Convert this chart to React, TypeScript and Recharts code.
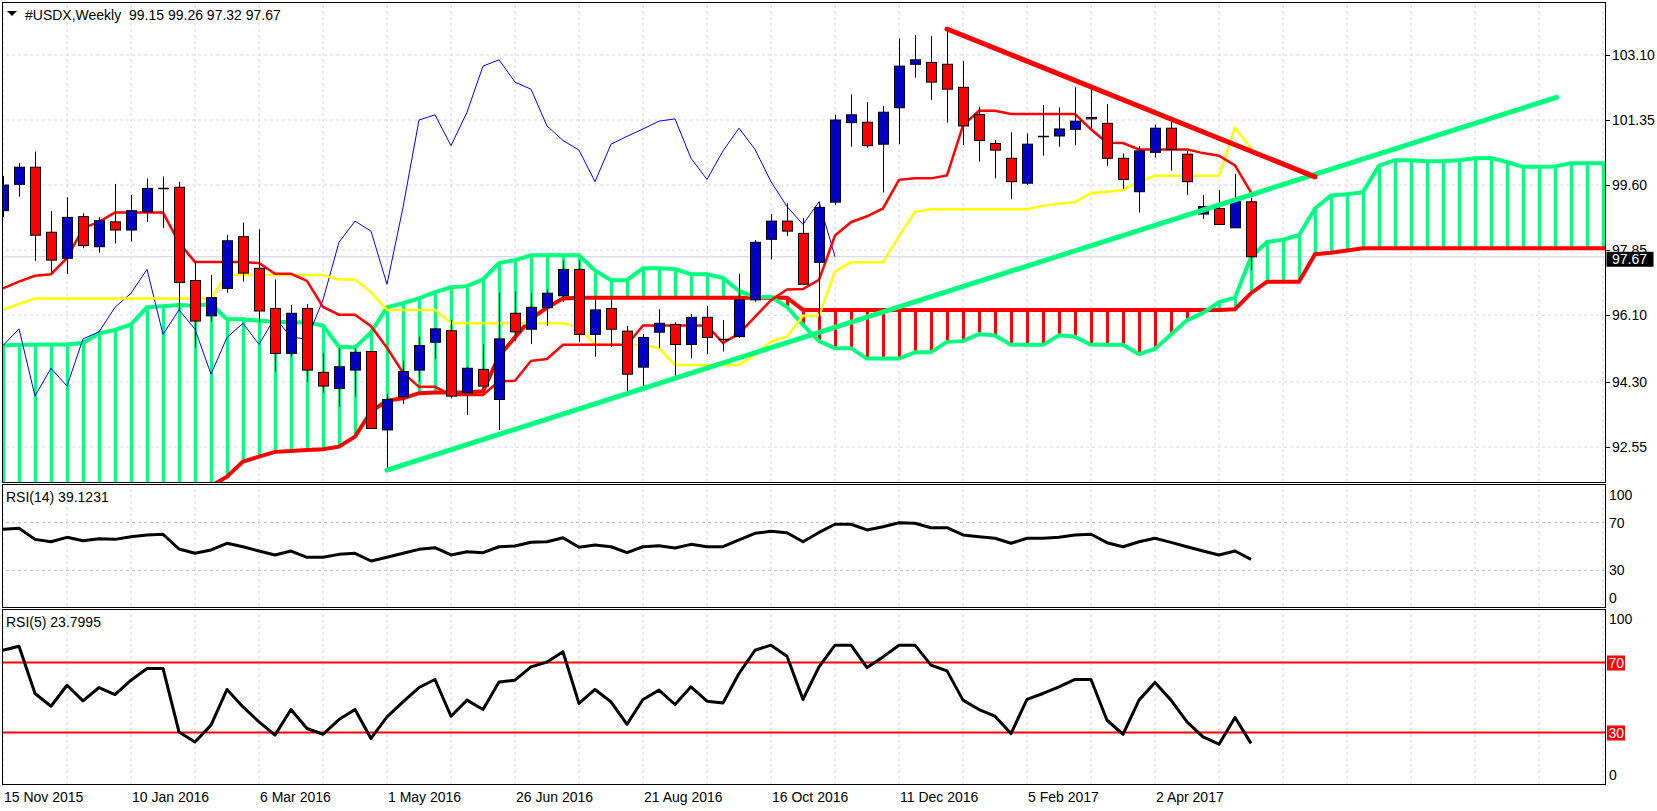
import React from 'react';
import { ComposedChart, Line, Bar, XAxis, YAxis, ReferenceLine } from 'recharts';

const FONT = '"Liberation Sans", Arial, Helvetica, sans-serif';
const GREEN = '#00FF7F';
const RED = '#FF0000';
const BULL = '#0000CD';
const GRID = '#d6d6ee';

// ---------- data ----------
const symbolTitle = '#USDX,Weekly';
const titleOHLC = [99.15, 99.26, 97.32, 97.67];
const lastPrice = 97.67;
const rsi14Title = 'RSI(14) 39.1231';
const rsi5Title = 'RSI(5) 23.7995';

const dateLabels = ['15 Nov 2015', '10 Jan 2016', '6 Mar 2016', '1 May 2016', '26 Jun 2016', '21 Aug 2016', '16 Oct 2016', '11 Dec 2016', '5 Feb 2017', '2 Apr 2017'];
const dateLabelBars = [0, 8, 16, 24, 32, 40, 48, 56, 64, 72];
const gridBars = [0, 4, 8, 12, 16, 20, 24, 28, 32, 36, 40, 44, 48, 52, 56, 60, 64, 68, 72, 76, 80, 84, 88, 92, 96, 100];
const priceTicks = [92.55, 94.30, 96.10, 97.85, 99.60, 101.35, 103.10];
const rsiTicks = [100, 70, 30, 0];

const opens = [98.91, 99.62, 100.08, 98.33, 97.63, 98.75, 97.94, 98.61, 98.39, 98.88,
  99.51, 99.54, 97.03, 96.08, 96.82, 98.21, 97.36, 96.28, 95.07, 96.28,
  94.56, 94.13, 94.62, 95.12, 93.01, 93.90, 94.62, 95.37, 95.68, 94.01,
  94.64, 93.83, 96.15, 95.72, 96.30, 96.62, 97.33, 95.58, 96.28, 95.67,
  94.70, 95.64, 95.85, 95.31, 96.04, 95.45, 95.52, 96.51, 98.14, 98.63,
  98.30, 97.52, 99.14, 101.28, 101.29, 100.70, 101.68, 102.85, 102.90, 102.85,
  102.23, 101.50, 100.72, 100.32, 99.65, 100.89, 100.92, 101.10, 101.42, 101.26,
  100.32, 99.42, 100.48, 101.13, 100.43, 98.82, 98.97, 98.45, 99.15];
const highs = [99.84, 100.19, 100.50, 98.90, 99.27, 98.84, 98.73, 99.63, 99.33, 99.78,
  99.83, 99.69, 97.54, 97.18, 98.26, 98.59, 98.41, 97.06, 96.37, 96.40,
  95.07, 95.21, 95.21, 95.12, 93.98, 94.87, 95.52, 95.75, 95.97, 94.71,
  95.32, 96.70, 96.73, 96.69, 96.80, 97.56, 97.58, 96.53, 96.53, 95.81,
  95.59, 96.26, 95.91, 96.13, 96.34, 95.97, 97.21, 98.12, 98.82, 99.11,
  98.71, 99.15, 101.49, 102.04, 101.83, 101.73, 103.55, 103.64, 103.61, 103.80,
  102.94, 101.71, 100.81, 101.02, 100.99, 101.75, 101.69, 102.23, 102.23, 101.78,
  100.45, 100.65, 101.23, 101.38, 100.52, 99.33, 99.47, 99.90, 99.26];
const lows = [98.74, 99.29, 97.56, 97.23, 97.20, 97.90, 97.78, 98.03, 98.08, 98.61,
  98.44, 96.22, 95.23, 95.92, 96.70, 97.00, 95.92, 94.58, 94.98, 94.31,
  94.01, 93.64, 93.90, 93.03, 91.93, 93.71, 94.31, 94.92, 93.86, 93.41,
  94.07, 93.01, 95.40, 95.32, 95.81, 96.46, 95.38, 94.98, 95.25, 94.04,
  94.19, 95.21, 94.47, 94.94, 95.05, 95.12, 95.48, 96.46, 97.60, 98.23,
  96.91, 95.90, 99.06, 100.63, 100.61, 99.40, 100.70, 102.49, 101.89, 101.28,
  100.68, 100.23, 99.78, 99.22, 99.60, 100.39, 100.63, 100.67, 101.13, 100.12,
  99.49, 98.86, 100.34, 99.99, 99.33, 98.69, 98.52, 98.45, 97.32];
const closes = [99.60, 100.08, 98.25, 97.58, 98.73, 97.97, 98.64, 98.39, 98.91, 99.51,
  99.51, 96.98, 95.94, 96.57, 98.10, 97.23, 96.21, 95.07, 96.15, 94.62,
  94.19, 94.71, 95.10, 93.05, 93.83, 94.58, 95.28, 95.73, 93.92, 94.67,
  94.19, 95.46, 95.65, 96.31, 96.69, 97.33, 95.58, 96.24, 95.72, 94.51,
  95.50, 95.88, 95.31, 96.04, 95.50, 95.46, 96.51, 98.06, 98.63, 98.36,
  96.93, 99.00, 101.35, 101.49, 100.66, 101.56, 102.80, 102.97, 102.37, 102.18,
  101.19, 100.80, 100.54, 99.69, 100.70, 100.91, 101.11, 101.32, 101.38, 100.32,
  99.75, 100.52, 101.13, 100.56, 99.69, 99.02, 98.54, 99.15, 97.67];

const tenkan = [96.82, 97.00, 97.16, 97.20, 97.63, 98.44, 98.61, 98.86, 98.86, 98.86,
  98.86, 98.05, 97.53, 97.53, 97.53, 97.53, 97.50, 97.21, 97.21, 97.02,
  96.32, 96.11, 96.11, 95.80, 95.22, 94.55, 94.17, 94.17, 93.95, 93.95,
  93.95, 94.32, 94.33, 94.87, 94.92, 95.30, 95.30, 95.30, 95.30, 95.30,
  95.82, 95.82, 95.82, 95.82, 95.82, 95.35, 95.60, 96.05, 96.50, 96.79,
  96.80, 97.05, 98.24, 98.60, 98.76, 98.97, 99.74, 99.78, 99.78, 99.86,
  101.20, 101.60, 101.60, 101.51, 101.51, 101.51, 101.51, 101.51, 101.10, 100.74,
  100.73, 100.56, 100.56, 100.56, 100.56, 100.46, 100.39, 100.13, 99.40];
const kijun = [96.24, 96.40, 96.55, 96.55, 96.55, 96.55, 96.55, 96.55, 96.55, 96.55,
  96.55, 96.55, 96.55, 96.55, 97.18, 97.18, 97.18, 97.18, 97.18, 97.18,
  97.18, 97.06, 97.06, 96.72, 96.24, 96.24, 96.24, 96.24, 95.88, 95.88,
  95.88, 95.88, 95.88, 95.88, 95.88, 95.88, 95.78, 95.30, 95.30, 95.30,
  95.30, 95.21, 94.76, 94.76, 94.76, 94.76, 94.76, 95.03, 95.39, 95.52,
  96.08, 96.08, 97.27, 97.52, 97.52, 97.52, 98.22, 98.88, 98.95, 98.95,
  98.95, 98.95, 98.95, 98.95, 98.95, 99.04, 99.10, 99.14, 99.38, 99.42,
  99.47, 99.69, 99.85, 99.85, 99.85, 99.85, 99.85, 101.14, 100.59];
const chikou = [95.28, 95.73, 93.92, 94.67, 94.19, 95.46, 95.65, 96.31, 96.69, 97.33,
  95.58, 96.24, 95.72, 94.51, 95.50, 95.88, 95.31, 96.04, 95.50, 95.46,
  96.51, 98.06, 98.63, 98.36, 96.93, 99.00, 101.35, 101.49, 100.66, 101.56,
  102.80, 102.97, 102.37, 102.18, 101.19, 100.80, 100.54, 99.69, 100.70, 100.91,
  101.11, 101.32, 101.38, 100.32, 99.75, 100.52, 101.13, 100.56, 99.69, 99.02,
  98.54, 99.15, 97.67];
const spanA = [95.28, 95.30, 95.30, 95.31, 95.31, 95.35, 95.61, 95.70, 95.85, 96.31,
  96.34, 96.37, 96.35, 96.40, 95.99, 95.99, 95.95, 95.92, 95.91, 95.90,
  95.82, 95.25, 95.23, 95.63, 96.31, 96.42, 96.55, 96.72, 96.85, 96.88,
  97.06, 97.50, 97.58, 97.71, 97.71, 97.71, 97.71, 97.30, 97.04, 97.04,
  97.36, 97.36, 97.34, 97.20, 97.20, 97.10, 96.75, 96.59, 96.59, 96.32,
  95.84, 95.40, 95.21, 95.21, 94.93, 94.93, 94.93, 95.10, 95.10, 95.38,
  95.40, 95.59, 95.55, 95.30, 95.30, 95.30, 95.56, 95.52, 95.30, 95.30,
  95.30, 95.05, 95.19, 95.58, 95.96, 96.16, 96.45, 96.57, 97.66, 98.07,
  98.13, 98.25, 98.97, 99.32, 99.35, 99.41, 100.12, 100.27, 100.27, 100.24,
  100.24, 100.27, 100.32, 100.33, 100.22, 100.09, 100.09, 100.10, 100.19, 100.19,
  100.19, 100.19, 100.12, 100.63, 99.97];
const spanB = [90.60, 90.62, 90.65, 90.70, 90.75, 90.80, 90.90, 91.00, 91.05, 91.10,
  91.20, 91.30, 91.40, 91.50, 91.75, 92.16, 92.29, 92.42, 92.44, 92.47,
  92.49, 92.56, 92.83, 93.50, 93.80, 93.86, 94.00, 94.02, 94.02, 94.02,
  94.05, 95.00, 95.50, 96.00, 96.30, 96.55, 96.57, 96.57, 96.57, 96.57,
  96.57, 96.57, 96.57, 96.57, 96.57, 96.57, 96.57, 96.57, 96.57, 96.57,
  96.24, 96.24, 96.24, 96.24, 96.24, 96.24, 96.24, 96.24, 96.24, 96.24,
  96.24, 96.24, 96.24, 96.24, 96.24, 96.24, 96.24, 96.24, 96.24, 96.24,
  96.24, 96.24, 96.24, 96.24, 96.24, 96.24, 96.24, 96.26, 96.69, 97.00,
  97.00, 97.00, 97.74, 97.78, 97.84, 97.90, 97.90, 97.90, 97.90, 97.90,
  97.90, 97.90, 97.90, 97.90, 97.90, 97.90, 97.90, 97.90, 97.90, 97.90,
  97.90, 97.90, 97.90, 97.90, 97.90];

const rsi14 = [64.5, 65.3, 56.0, 54.0, 57.7, 54.9, 56.6, 56.0, 58.2, 59.7,
  60.3, 47.9, 44.3, 47.1, 52.7, 49.8, 46.2, 42.9, 46.2, 40.9,
  40.9, 43.4, 44.3, 37.8, 40.9, 44.3, 47.6, 49.0, 42.9, 45.6,
  44.8, 49.8, 50.4, 53.5, 54.0, 57.4, 49.3, 51.3, 49.8, 44.8,
  49.8, 50.7, 48.7, 51.8, 49.8, 49.8, 55.5, 61.1, 62.8, 61.6,
  54.0, 61.8, 68.7, 68.7, 63.9, 66.6, 70.0, 69.5, 65.8, 65.8,
  59.7, 58.2, 56.9, 52.7, 56.9, 56.9, 57.7, 59.7, 60.3, 53.2,
  49.8, 54.0, 56.9, 53.5, 49.8, 46.2, 42.9, 46.2, 39.12];
const rsi5 = [77.0, 79.3, 52.3, 45.0, 57.0, 48.1, 55.7, 51.7, 59.9, 66.6,
  66.6, 30.3, 24.6, 34.2, 54.6, 44.6, 36.1, 28.5, 43.1, 32.3,
  29.0, 37.4, 43.1, 26.6, 38.9, 47.5, 55.7, 60.3, 39.3, 48.5,
  43.1, 58.9, 59.9, 67.5, 70.3, 76.1, 46.6, 54.6, 47.5, 34.7,
  48.9, 54.2, 46.0, 56.1, 47.9, 46.9, 63.7, 77.0, 79.9, 73.6,
  48.9, 67.5, 79.9, 79.9, 67.1, 73.2, 79.9, 79.9, 68.5, 65.2,
  48.5, 43.1, 39.3, 29.4, 48.9, 52.3, 56.1, 60.3, 60.3, 37.0,
  29.0, 48.5, 58.6, 48.5, 36.1, 27.5, 23.3, 38.6, 23.80];

const greenTrend = [{ bar: 24, price: 91.93 }, { bar: 97.1, price: 101.96 }];
const redTrend = [{ bar: 59, price: 103.80 }, { bar: 82, price: 99.82 }];

// ---------- chart tables ----------
const X_DOMAIN: [number, number] = [-0.0625, 100.125];
const P_DOMAIN: [number, number] = [91.609, 104.526];

const mainRows = spanA.map((a, i) => {
  const b = spanB[i];
  const hasCandle = i < opens.length;
  return {
    i,
    candle: hasCandle ? [lows[i], highs[i]] : null,
    o: hasCandle ? opens[i] : null,
    h: hasCandle ? highs[i] : null,
    l: hasCandle ? lows[i] : null,
    c: hasCandle ? closes[i] : null,
    tenkan: i < tenkan.length ? tenkan[i] : null,
    kijun: i < kijun.length ? kijun[i] : null,
    chikou: i < chikou.length ? chikou[i] : null,
    spanA: a,
    spanB: b,
    cloud: [Math.min(a, b), Math.max(a, b)],
    bull: a >= b,
  };
});
const rsi14Rows = rsi14.map((v, i) => ({ i, v }));
const rsi5Rows = rsi5.map((v, i) => ({ i, v }));

// ---------- shapes ----------
function Candle(props: any) {
  const { x, y, width, height, payload } = props;
  if (!payload || payload.o == null || !isFinite(x) || !isFinite(y) || !isFinite(height)) return <g />;
  const { o, h, l, c } = payload;
  const cx = Math.round(x + width / 2);
  const range = h - l || 1;
  const py = (v: number) => y + ((h - v) / range) * height;
  const top = py(Math.max(o, c));
  const bot = py(Math.min(o, c));
  const wx = cx + 0.5;
  const doji = Math.abs(o - c) < 0.025;
  return (
    <g>
      <line x1={wx} x2={wx} y1={y} y2={y + height} stroke="#000" strokeWidth={1} />
      {doji ? (
        <line x1={cx - 5} x2={cx + 6} y1={Math.round(py(c)) + 0.5} y2={Math.round(py(c)) + 0.5} stroke="#000" strokeWidth={1.5} />
      ) : (
        <rect x={cx - 4.5} y={top} width={10} height={Math.max(bot - top, 1)} fill={c > o ? BULL : RED} stroke="#000" strokeWidth={1} />
      )}
    </g>
  );
}

function Hatch(props: any) {
  const { x, y, width, height, payload } = props;
  if (!payload || !isFinite(x) || !isFinite(y) || !isFinite(height)) return <g />;
  const cx = Math.round(x + width / 2) + 0.5;
  return <line x1={cx} x2={cx} y1={y} y2={y + height} stroke={payload.bull ? GREEN : RED} strokeWidth={3} />;
}

function PriceTick(props: any) {
  const { x, y, payload } = props;
  const v = payload.value as number;
  if (v === lastPrice) {
    return (
      <g>
        <rect x={x + 1.5} y={y - 5} width={47} height={15} fill="#000" />
        <text x={x + 7} y={y + 7.5} fill="#fff" fontSize={14} fontFamily={FONT}>{v.toFixed(2)}</text>
      </g>
    );
  }
  return (
    <g>
      <line x1={x} x2={x + 5} y1={Math.round(y) + 0.5} y2={Math.round(y) + 0.5} stroke="#000" />
      <text x={x + 7} y={y + 5} fill="#000" fontSize={14} fontFamily={FONT}>{v.toFixed(2)}</text>
    </g>
  );
}

function Rsi14Tick(props: any) {
  const { x, y, payload } = props;
  const v = payload.value as number;
  const off = v === 100 ? 8 : v === 0 ? -8 : 0;
  return <text x={x + 4} y={y + off + 5} fill="#000" fontSize={14} fontFamily={FONT}>{v}</text>;
}

function Rsi5Tick(props: any) {
  const { x, y, payload } = props;
  const v = payload.value as number;
  if (v === 70 || v === 30) {
    return (
      <g>
        <rect x={x + 2} y={y - 7} width={18} height={15} fill={RED} />
        <text x={x + 3.5} y={y + 5} fill="#fff" fontSize={14} fontFamily={FONT}>{v}</text>
      </g>
    );
  }
  const off = v === 100 ? 9 : -10;
  return <text x={x + 4} y={y + off + 5} fill="#000" fontSize={14} fontFamily={FONT}>{v}</text>;
}

function DateTick(props: any) {
  const { x, y, payload } = props;
  const idx = dateLabelBars.indexOf(payload.value);
  if (idx < 0) return <g />;
  return <text x={x + 1} y={y + 17} fill="#000" fontSize={14} fontFamily={FONT}>{dateLabels[idx]}</text>;
}

const vGrid = (prefix: string) =>
  gridBars.map((b) => (
    <ReferenceLine key={prefix + b} x={b} stroke={GRID} strokeDasharray="3 3" zIndex={10} />
  ));

export default function App() {
  const lineCommon = { type: 'linear' as const, dot: false, activeDot: false, isAnimationActive: false, connectNulls: false };
  return (
    <div style={{ position: 'absolute', left: 0, top: 0, width: 1657, height: 811, background: '#fff', fontFamily: FONT }}>
      {/* main price panel */}
      <div style={{ position: 'absolute', left: 0, top: 0 }}>
        <ComposedChart width={1657} height={483} data={mainRows} margin={{ top: 2, right: 0, bottom: 1, left: 2 }}>
          <XAxis dataKey="i" type="number" domain={X_DOMAIN} allowDataOverflow hide />
          <XAxis xAxisId="h" dataKey="i" type="number" domain={X_DOMAIN} allowDataOverflow hide />
          <YAxis orientation="right" width={52} type="number" domain={P_DOMAIN} allowDataOverflow
            ticks={[...priceTicks, lastPrice]} interval={0} tick={<PriceTick />} tickLine={false} axisLine={false} tickSize={0} tickMargin={0} />
          {vGrid('mv')}
          {priceTicks.map((p) => (
            <ReferenceLine key={'mh' + p} y={p} stroke={GRID} strokeDasharray="3 3" zIndex={10} />
          ))}
          <ReferenceLine y={lastPrice} stroke="#cdcde0" zIndex={20} />
          <Bar xAxisId="h" dataKey="cloud" barSize={10} shape={<Hatch />} isAnimationActive={false} zIndex={100} />
          <Line {...lineCommon} dataKey="spanB" stroke={RED} strokeWidth={4} zIndex={150} />
          <Line {...lineCommon} dataKey="spanA" stroke={GREEN} strokeWidth={4} zIndex={150} />
          <Line {...lineCommon} dataKey="chikou" stroke="#0000FF" strokeWidth={1} zIndex={200} />
          <Line {...lineCommon} dataKey="kijun" stroke="#FFFF00" strokeWidth={2.5} zIndex={200} />
          <Line {...lineCommon} dataKey="tenkan" stroke={RED} strokeWidth={2.5} zIndex={200} />
          <Bar dataKey="candle" barSize={10} shape={<Candle />} isAnimationActive={false} zIndex={300} />
          <ReferenceLine segment={[{ x: greenTrend[0].bar, y: greenTrend[0].price }, { x: greenTrend[1].bar, y: greenTrend[1].price }]}
            stroke={GREEN} strokeWidth={5} strokeLinecap="round" zIndex={400} />
          <ReferenceLine segment={[{ x: redTrend[0].bar, y: redTrend[0].price }, { x: redTrend[1].bar, y: redTrend[1].price }]}
            stroke={RED} strokeWidth={5} strokeLinecap="round" zIndex={400} />
        </ComposedChart>
      </div>

      {/* RSI(14) panel */}
      <div style={{ position: 'absolute', left: 0, top: 484 }}>
        <ComposedChart width={1657} height={124} data={rsi14Rows} margin={{ top: 3, right: 0, bottom: 2, left: 2 }}>
          <XAxis dataKey="i" type="number" domain={X_DOMAIN} allowDataOverflow hide />
          <YAxis orientation="right" width={52} type="number" domain={[0, 100]} ticks={rsiTicks} interval={0}
            tick={<Rsi14Tick />} tickLine={false} axisLine={false} tickSize={0} tickMargin={0} />
          {vGrid('av')}
          <ReferenceLine y={70} stroke="#bdbdbd" strokeDasharray="3 3" zIndex={20} />
          <ReferenceLine y={30} stroke="#bdbdbd" strokeDasharray="3 3" zIndex={20} />
          <Line {...lineCommon} dataKey="v" stroke="#000" strokeWidth={3} strokeLinejoin="round" zIndex={200} />
        </ComposedChart>
      </div>

      {/* RSI(5) panel */}
      <div style={{ position: 'absolute', left: 0, top: 609 }}>
        <ComposedChart width={1657} height={202} data={rsi5Rows} margin={{ top: 1, right: 0, bottom: 0, left: 2 }}>
          <XAxis dataKey="i" type="number" domain={X_DOMAIN} allowDataOverflow height={26} ticks={dateLabelBars} interval={0}
            tick={<DateTick />} tickLine={false} axisLine={false} tickSize={0} tickMargin={0} />
          <YAxis orientation="right" width={52} type="number" domain={[0, 100]} ticks={rsiTicks} interval={0}
            tick={<Rsi5Tick />} tickLine={false} axisLine={false} tickSize={0} tickMargin={0} />
          {vGrid('bv')}
          <ReferenceLine y={70} stroke={RED} strokeWidth={2} zIndex={20} />
          <ReferenceLine y={30} stroke={RED} strokeWidth={2} zIndex={20} />
          <Line {...lineCommon} dataKey="v" stroke="#000" strokeWidth={3} strokeLinejoin="round" zIndex={200} />
        </ComposedChart>
      </div>

      {/* frames and captions */}
      <svg width={1657} height={811} style={{ position: 'absolute', left: 0, top: 0, pointerEvents: 'none' }}>
        <rect x={2.5} y={2.5} width={1603} height={480} fill="none" stroke="#000" />
        <rect x={2.5} y={484.5} width={1603} height={123} fill="none" stroke="#000" />
        <rect x={2.5} y={609.5} width={1603} height={175} fill="none" stroke="#000" />
        <polygon points="7,11 17,11 12,16" fill="#000" />
        <text x={25} y={19.5} fontSize={14} fontFamily={FONT} fill="#000" style={{ whiteSpace: 'pre' }}>
          {symbolTitle + '  ' + titleOHLC.map((v) => v.toFixed(2)).join(' ')}
        </text>
        <text x={6} y={501.5} fontSize={14} fontFamily={FONT} fill="#000">{rsi14Title}</text>
        <text x={6} y={627} fontSize={14} fontFamily={FONT} fill="#000">{rsi5Title}</text>
      </svg>
    </div>
  );
}
